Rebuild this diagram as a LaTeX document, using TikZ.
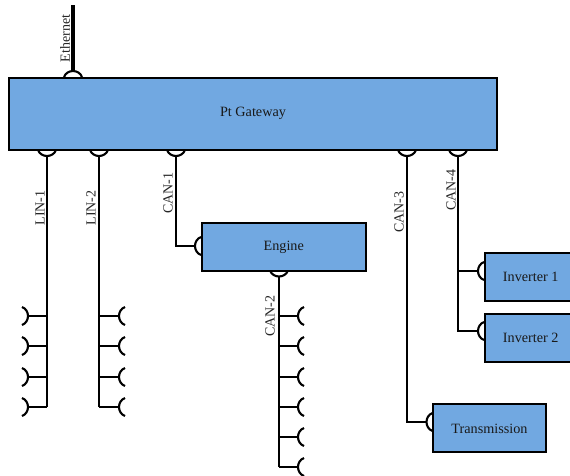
\documentclass[tikz,border=0pt]{standalone}
\usepackage{fontspec}
\setmainfont{Liberation Serif}
\definecolor{boxblue}{HTML}{71A8E1}
\tikzset{
  x=1pt,y=-1pt,
  unit/.style={draw=black,line width=2pt,fill=boxblue,inner sep=0pt,outer sep=0pt,font=\fontsize{14.2}{16}\selectfont,text=black!90,text height=10pt},
  wire/.style={draw=black,line width=2.1pt,line join=miter},
  trunk/.style={draw=black,line width=3.6pt},
  buslabel/.style={rotate=90,inner sep=0pt,font=\fontsize{14}{16}\selectfont,text=black!85},
  pics/sockD/.style={code={\draw[wire,fill=white] (-9,6) .. controls (-6,-2) and (6,-2) .. (9,6);}},
  pics/sockU/.style={code={\draw[wire,fill=white] (-9,-6) .. controls (-6,2) and (6,2) .. (9,-6);}},
  pics/sockL/.style={code={\draw[wire] (-6,-9) .. controls (2,-6) and (2,6) .. (-6,9);}},
  pics/sockR/.style={code={\draw[wire] (6,-9) .. controls (-2,-6) and (-2,6) .. (6,9);}},
}
% name, text, x0, y0, x1, y1, text depth (sets the baseline within the box)
\newcommand{\unitbox}[7]{\node[unit,text depth=#7,minimum width=#5-#3,minimum height=#6-#4,anchor=north west] (#1) at (#3,#4) {#2};}
\begin{document}
\begin{tikzpicture}
\useasboundingbox (0,0) rectangle (570,475);
% junction and end coordinates
\coordinate (ethTop) at (73,5);
\coordinate (ethS) at (73,71);
\coordinate (linAs) at (47,156);
\coordinate (linBs) at (99,156);
\coordinate (canAs) at (176,156);
\coordinate (canCs) at (407,156);
\coordinate (canDs) at (458,156);
\coordinate (canAb) at (176,246);
\coordinate (canAe) at (195,246);
\coordinate (canBs) at (279,276.5);
\coordinate (canCb) at (407,422);
\coordinate (canCe) at (426.5,422);
\coordinate (canDa) at (458,271);
\coordinate (canDb) at (458,331);
\coordinate (invAe) at (478,271);
\coordinate (invBe) at (478,331);
% buses with their stubs
\foreach \n/\y in {1/316,2/346,3/377,4/407}{
  \coordinate (la\n) at (47,\y);
  \coordinate (lae\n) at (28,\y);
  \coordinate (lb\n) at (99,\y);
  \coordinate (lbe\n) at (119,\y);
}
\foreach \n/\y in {1/316,2/346,3/377,4/407,5/437,6/467}{
  \coordinate (cb\n) at (279,\y);
  \coordinate (cbe\n) at (298,\y);
}
\draw[trunk] (ethTop) -- (ethS);
\pic at (ethS) {sockD};
\foreach \p in {linAs,linBs,canAs,canCs,canDs,canBs}{\pic at (\p) {sockU};}
\draw[wire] (linAs) -- (la4);
\draw[wire] (linBs) -- (lb4);
\foreach \n in {1,2,3,4}{
  \draw[wire] (la\n) -- (lae\n);
  \pic at (lae\n) {sockL};
  \draw[wire] (lb\n) -- (lbe\n);
  \pic at (lbe\n) {sockR};
}
\draw[wire] (canBs) -- (cb6);
\foreach \n in {1,...,6}{
  \draw[wire] (cb\n) -- (cbe\n);
  \pic at (cbe\n) {sockR};
}
\draw[wire] (canAs) -- (canAb) -- (canAe);
\pic at (canAe) {sockR};
\draw[wire] (canCs) -- (canCb) -- (canCe);
\pic at (canCe) {sockR};
\draw[wire] (canDs) -- (canDb) -- (invBe);
\draw[wire] (canDa) -- (invAe);
\pic at (invAe) {sockR};
\pic at (invBe) {sockR};
% units
\unitbox{gw}{Pt Gateway}{9}{77.5}{497}{150}{4.5pt}
\unitbox{eng}{Engine}{201.5}{222.5}{366}{270.5}{2.5pt}
\unitbox{inva}{Inverter 1}{484.5}{252.5}{577}{301}{0pt}
\unitbox{invb}{Inverter 2}{484.5}{313.5}{577}{362}{0pt}
\unitbox{trans}{Transmission}{433}{404}{546}{452}{0pt}
% bus labels
\node[buslabel] (lEth) at (65,38.5) {Ethernet};
\node[buslabel] (lLinA) at (40,208) {LIN-1};
\node[buslabel] (lLinB) at (91,208) {LIN-2};
\node[buslabel] (lCanA) at (168,193) {CAN-1};
\node[buslabel] (lCanB) at (270,316) {CAN-2};
\node[buslabel] (lCanC) at (399,212) {CAN-3};
\node[buslabel] (lCanD) at (451,190) {CAN-4};
\end{tikzpicture}
\end{document}
